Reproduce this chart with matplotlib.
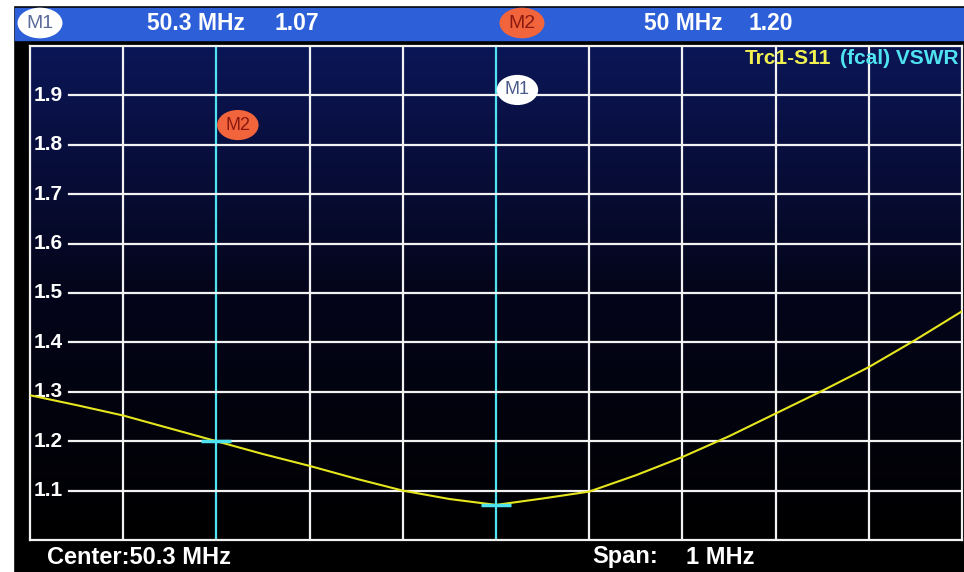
import numpy as np
import matplotlib
matplotlib.use("Agg")
import matplotlib.pyplot as plt
from matplotlib.colors import LinearSegmentedColormap
from matplotlib.patches import Rectangle

# ----------------------------
# Data
# ----------------------------
center_mhz = 50.3
span_mhz = 1.0

freq_mhz = [49.80, 49.85, 49.90, 49.95, 50.00, 50.05, 50.10, 50.15, 50.20, 50.25,
            50.30, 50.35, 50.40, 50.45, 50.50, 50.55, 50.60, 50.65, 50.70, 50.75, 50.80]
vswr = [1.293, 1.273, 1.252, 1.226, 1.200, 1.174, 1.150, 1.124, 1.100, 1.083,
        1.071, 1.084, 1.098, 1.131, 1.168, 1.210, 1.256, 1.302, 1.350, 1.405, 1.463]

marker_names = ["M1", "M2"]
marker_freq = [50.3, 50.0]
marker_vswr = [1.07, 1.20]

y_ticks = [1.1, 1.2, 1.3, 1.4, 1.5, 1.6, 1.7, 1.8, 1.9]

# ----------------------------
# Style
# ----------------------------
FONT = ["Liberation Sans", "DejaVu Sans"]
W, H = 964, 572
BAR_BLUE = "#2d60d8"
GRID = "#f2f2f2"
CYAN = "#4fe3f0"
TRACE = "#e6e61e"
M2_FILL = "#f2643c"

fig = plt.figure(figsize=(W / 100, H / 100), dpi=100, facecolor="black")


def fx(px):
    return px / W


def fy(py):
    return 1 - py / H


# white margin of the photo + blue header bar
fig.patches.append(Rectangle((0, 0), fx(13), 1, transform=fig.transFigure, color="white", zorder=0))
fig.patches.append(Rectangle((0, fy(5)), 1, 5 / H, transform=fig.transFigure, color="white", zorder=0))
fig.patches.append(Rectangle((fx(15), fy(40)), 1, 32 / H, transform=fig.transFigure, color=BAR_BLUE, zorder=1))

# plot area
x0, x1 = 30, 962
y_top, y_bot = 46, 540
ax = fig.add_axes([fx(x0), fy(y_bot), fx(x1 - x0), (y_bot - y_top) / H])
fmin, fmax = center_mhz - span_mhz / 2, center_mhz + span_mhz / 2
ax.set_xlim(fmin, fmax)
ax.set_ylim(1.0, 2.0)

# dark navy -> black background gradient
cmap = LinearSegmentedColormap.from_list("scr", ["#000000", "#04051a", "#0b1657"])
grad = np.linspace(0, 1, 256).reshape(-1, 1)
ax.imshow(grad, extent=[0, 1, 0, 1], transform=ax.transAxes, aspect="auto",
          cmap=cmap, origin="lower", zorder=0)

ax.set_xticks([])
ax.set_yticks([])
for s in ax.spines.values():
    s.set_color(GRID)
    s.set_linewidth(1.6)

# grid
v_lines = np.linspace(fmin, fmax, 11)[1:-1]
for v in v_lines:
    c = CYAN if any(abs(v - m) < 1e-6 for m in marker_freq) else GRID
    ax.axvline(v, color=c, lw=1.6, zorder=2)
for yv in y_ticks:
    ax.axhline(yv, xmin=0.042, xmax=1, color=GRID, lw=1.6, zorder=2)
    ax.text(0.004, yv, f"{yv:.1f}", transform=ax.get_yaxis_transform(), ha="left", va="center",
            color="white", fontsize=15, fontweight="bold", family=FONT, zorder=3)

# trace
ax.plot(freq_mhz, vswr, color=TRACE, lw=1.5, zorder=4)
ax.plot(marker_freq, marker_vswr, ls="none", marker="_", markersize=22, mew=2.5,
        color=CYAN, zorder=5)

# marker labels on the plot
ax.text(50.323, 1.911, "M1", ha="center", va="center", fontsize=13, color="#4a5a8a", family=FONT,
        bbox=dict(boxstyle="ellipse,pad=0.12", fc="white", ec="none"), zorder=6)
ax.text(50.023, 1.840, "M2", ha="center", va="center", fontsize=13, color="#8a1a10", family=FONT,
        bbox=dict(boxstyle="ellipse,pad=0.12", fc=M2_FILL, ec="none"), zorder=6)

# trace title
fig.text(fx(745), fy(58), "Trc1-S11", ha="left", va="center", color="#f0f050",
         fontsize=15, fontweight="bold", family=FONT, zorder=7)
fig.text(fx(958), fy(58), "(fcal) VSWR", ha="right", va="center", color=CYAN,
         fontsize=15, fontweight="bold", family=FONT, zorder=7)

# header bar
fig.text(fx(40), fy(23), "M1", ha="center", va="center", fontsize=14, color="#5a6a9a", family=FONT,
         bbox=dict(boxstyle="ellipse,pad=0.12", fc="white", ec="none"), zorder=7)
fig.text(fx(522), fy(23), "M2", ha="center", va="center", fontsize=14, color="#8a1a10", family=FONT,
         bbox=dict(boxstyle="ellipse,pad=0.12", fc=M2_FILL, ec="none"), zorder=7)
hdr = dict(ha="left", va="center", color="white", fontsize=16.5, fontweight="bold", family=FONT, zorder=7)
fig.text(fx(147), fy(23), f"{marker_freq[0]:.1f} MHz", **hdr)
fig.text(fx(274), fy(23), f"{marker_vswr[0]:.2f}", **hdr)
fig.text(fx(644), fy(23), f"{marker_freq[1]:.0f} MHz", **hdr)
fig.text(fx(749), fy(23), f"{marker_vswr[1]:.2f}", **hdr)

# footer
ftr = dict(ha="left", va="center", color="white", fontsize=17, fontweight="bold", family=FONT)
fig.text(fx(47), fy(557), f"Center:{center_mhz:.1f} MHz", **ftr)
fig.text(fx(592), fy(557), "Span:", **ftr)
fig.text(fx(686), fy(557), f"{span_mhz:.0f} MHz", **ftr)

fig.savefig("out.png", dpi=100, facecolor=fig.get_facecolor())
